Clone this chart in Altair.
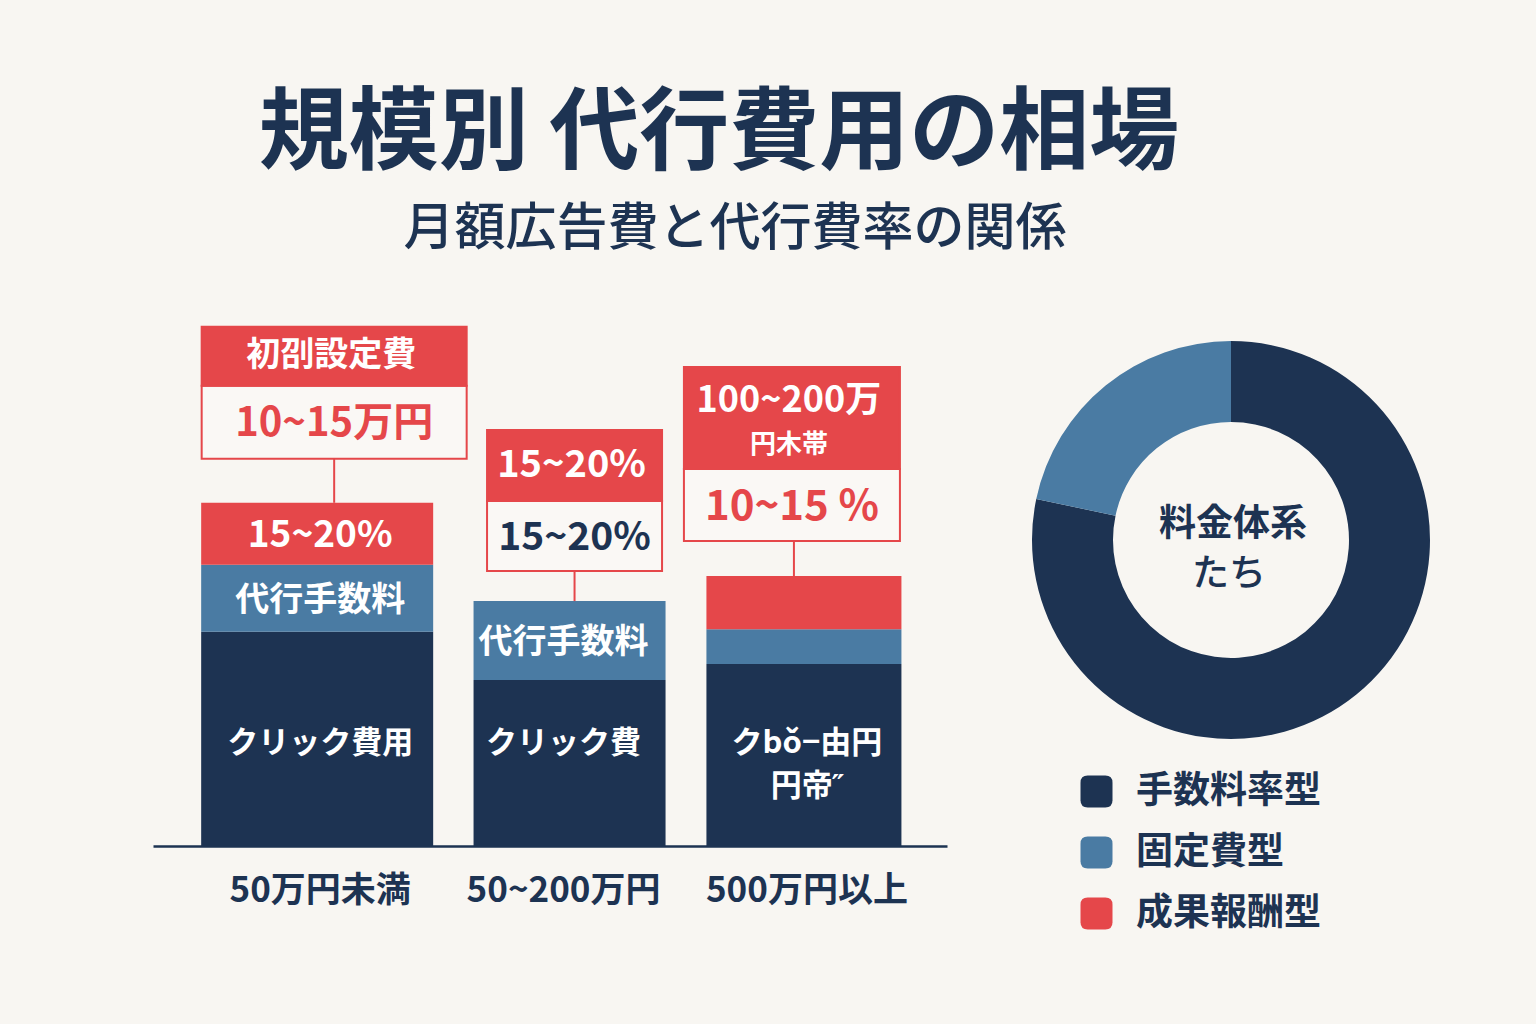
import altair as alt
import pandas as pd

# ---------------- data ----------------
categories = ["50万円未満", "50~200万円", "500万円以上"]
segments = ["クリック費用", "代行手数料", "成果報酬"]
click_cost = [41.2, 31.9, 35.0]
agency_fee = [12.9, 15.2, 6.7]
performance = [11.9, 0.0, 10.2]

click_labels = [["クリック費用"], ["クリック費"], ["クbǒ−由円", "円帝˝"]]
fee_labels = ["代行手数料", "代行手数料", ""]
perf_labels = ["15~20%", "", ""]

callout_head = [["初刟設定費"], ["15~20%"], ["100~200万", "円木帯"]]
callout_body = ["10~15万円", "15~20%", "10~15 %"]

pie_types = ["手数料率型", "固定費型", "成果報酬型"]
pie_values = [78.3, 21.7, 0.0]

title_text = "規模別 代行費用の相場"
subtitle_text = "月額広告費と代行費率の関係"
donut_center = ["料金体系", "たち"]

# ---------------- style ----------------
NAVY = "#1d3352"
BLUE = "#4a7ba3"
RED = "#e5474a"
BG = "#f8f6f2"
BOXBG = "#faf8f5"
FONT = "Noto Sans CJK JP"

LEFT, TOP, W, H = 153, 326, 794, 520
PX = H / 100.0  # pixels per value unit

bar_w = [232, 192, 195]
bar_dx = [-3, 6, -3]

xscale = alt.Scale(domain=categories, paddingInner=0.153, paddingOuter=0.2077, align=0.634)
yscale = alt.Scale(domain=[0, 100], nice=False, zero=True)

xaxis = alt.Axis(title=None, ticks=False, tickSize=0, domainColor=NAVY, domainWidth=2.5,
                 labelFont=FONT, labelFontSize=35, labelFontWeight="bold", labelColor=NAVY,
                 labelBaseline="middle", labelPadding=44, labelAngle=0, grid=False,
                 labelLimit=400, labelOverlap=False)
X = alt.X("cat:N", sort=categories, scale=xscale, axis=xaxis)

# ---------------- bars ----------------
rows = []
totals = []
for i, c in enumerate(categories):
    base = 0.0
    for s, v in zip(segments, [click_cost[i], agency_fee[i], performance[i]]):
        rows.append({"cat": c, "seg": s, "y0": base, "y1": base + v})
        base += v
    totals.append(base)
bars_df = pd.DataFrame(rows)

layers = []
for i, c in enumerate(categories):
    layers.append(alt.Chart(bars_df[bars_df["cat"] == c]).mark_bar(width=bar_w[i], xOffset=bar_dx[i]).encode(
        x=X,
        y=alt.Y("y0:Q", scale=yscale, axis=None),
        y2="y1:Q",
        color=alt.Color("seg:N", scale=alt.Scale(domain=segments, range=[NAVY, BLUE, RED]), legend=None),
    ))

def text_layer(df, size, color, weight="bold", dx=0):
    return alt.Chart(df).mark_text(font=FONT, fontSize=size, fontWeight=weight, color=color,
                                   align="center", baseline="middle", xOffset=dx).encode(
        x=X, y=alt.Y("y:Q", scale=yscale), text="t:N")

click_rows, fee_rows, perf_rows = [], [], []
for i, c in enumerate(categories):
    for j, line in enumerate(click_labels[i]):
        click_rows.append({"cat": c, "y": 19.6 - j * 43 / PX, "t": line})
    if fee_labels[i]:
        fee_rows.append({"cat": c, "y": click_cost[i] + agency_fee[i] / 2 - 0.5, "t": fee_labels[i]})
    if perf_labels[i]:
        perf_rows.append({"cat": c, "y": click_cost[i] + agency_fee[i] + performance[i] / 2 - 0.4,
                          "t": perf_labels[i]})

layers += [
    text_layer(pd.DataFrame(click_rows), 31, "white"),
    text_layer(pd.DataFrame(fee_rows), 34, "white"),
    text_layer(pd.DataFrame(perf_rows), 37, "white"),
]

# ---------------- callouts ----------------
box_gap = [44, 30, 35]
box_body_h = [73, 70, 72]
box_head_h = [59, 71, 102]
box_w = [265, 175, 216]
box_dx = [14, 11, -15]
line_dx = [14, 11, -13]
head_sizes = [[34], [38], [36, 26]]
body_sizes = [40, 39, 42]
body_colors = [RED, NAVY, RED]

for i, c in enumerate(categories):
    b0 = totals[i] + box_gap[i] / PX
    b1 = b0 + box_body_h[i] / PX
    b2 = b1 + box_head_h[i] / PX
    one = pd.DataFrame({"cat": [c], "t0": [totals[i]], "b0": [b0], "b1": [b1], "b2": [b2]})
    layers.append(alt.Chart(one).mark_rule(color=RED, strokeWidth=2, xOffset=line_dx[i]).encode(
        x=X, y=alt.Y("t0:Q", scale=yscale), y2="b0:Q"))
    layers.append(alt.Chart(one).mark_bar(width=box_w[i], xOffset=box_dx[i], fill=BOXBG,
                                          stroke=RED, strokeWidth=2).encode(
        x=X, y=alt.Y("b0:Q", scale=yscale), y2="b1:Q"))
    layers.append(alt.Chart(one).mark_bar(width=box_w[i], xOffset=box_dx[i], fill=RED,
                                          stroke=RED, strokeWidth=2).encode(
        x=X, y=alt.Y("b1:Q", scale=yscale), y2="b2:Q"))
    lines = callout_head[i]
    mid = (b1 + b2) / 2
    n = len(lines)
    for j, line in enumerate(lines):
        off = 0 if n == 1 else (-22 + 44 * j + 5)
        layers.append(text_layer(pd.DataFrame({"cat": [c], "y": [mid - off / PX], "t": [line]}),
                                 head_sizes[i][j], "white", dx=box_dx[i] - 3))
    layers.append(text_layer(pd.DataFrame({"cat": [c], "y": [(b0 + b1) / 2 - 2 / PX], "t": [callout_body[i]]}),
                             body_sizes[i], body_colors[i], dx=box_dx[i]))

# ---------------- donut ----------------
ROUNDED = "M-1,-0.55 Q-1,-1 -0.55,-1 L0.55,-1 Q1,-1 1,-0.55 L1,0.55 Q1,1 0.55,1 L-0.55,1 Q-1,1 -1,0.55 Z"
pie_df = pd.DataFrame({"type": pie_types, "v": pie_values, "i": list(range(len(pie_types)))})
donut = alt.Chart(pie_df).mark_arc(radius=199, radius2=118).encode(
    theta=alt.Theta("v:Q", stack=True),
    order=alt.Order("i:Q"),
    color=alt.Color("type:N", scale=alt.Scale(domain=pie_types, range=[NAVY, BLUE, RED]),
                    legend=alt.Legend(orient="none", legendX=925, legendY=447, direction="vertical",
                                      title=None, symbolType=ROUNDED, symbolSize=1024,
                                      symbolStrokeWidth=0, symbolOpacity=1,
                                      labelFont=FONT, labelFontSize=37, labelFontWeight="bold",
                                      labelColor=NAVY, labelOffset=21, rowPadding=23, padding=0,
                                      labelLimit=400)),
    x=alt.value(1231 - LEFT), y=alt.value(540 - TOP),
)
layers.append(donut)

center_df = pd.DataFrame({"t": donut_center, "k": [0, 1]})
layers.append(alt.Chart(center_df.iloc[[0]]).mark_text(font=FONT, fontSize=37, fontWeight="bold",
                                                         color=NAVY, baseline="middle").encode(
    text="t:N", x=alt.value(1233 - LEFT), y=alt.value(525 - TOP)))
layers.append(alt.Chart(center_df.iloc[[1]]).mark_text(font=FONT, fontSize=37, fontWeight=500,
                                                         color=NAVY, baseline="middle").encode(
    text="t:N", x=alt.value(1229 - LEFT), y=alt.value(575 - TOP)))

# ---------------- titles ----------------
layers.append(alt.Chart(pd.DataFrame({"t": [title_text]})).mark_text(
    font=FONT, fontSize=90, fontWeight="bold", color=NAVY, baseline="middle").encode(
    text="t:N", x=alt.value(719 - LEFT), y=alt.value(135 - TOP)))
layers.append(alt.Chart(pd.DataFrame({"t": [subtitle_text]})).mark_text(
    font=FONT, fontSize=51, fontWeight=500, color=NAVY, baseline="middle").encode(
    text="t:N", x=alt.value(735 - LEFT), y=alt.value(230 - TOP)))

chart = alt.layer(*layers).resolve_scale(color="independent").properties(
    width=W, height=H,
    autosize=alt.AutoSizeParams(type="none"),
    padding={"left": LEFT, "top": TOP, "right": 1536 - LEFT - W, "bottom": 1024 - TOP - H},
    background=BG,
).configure_view(stroke=None)

chart.save("out.html", embed_options={"renderer": "svg", "actions": False})
